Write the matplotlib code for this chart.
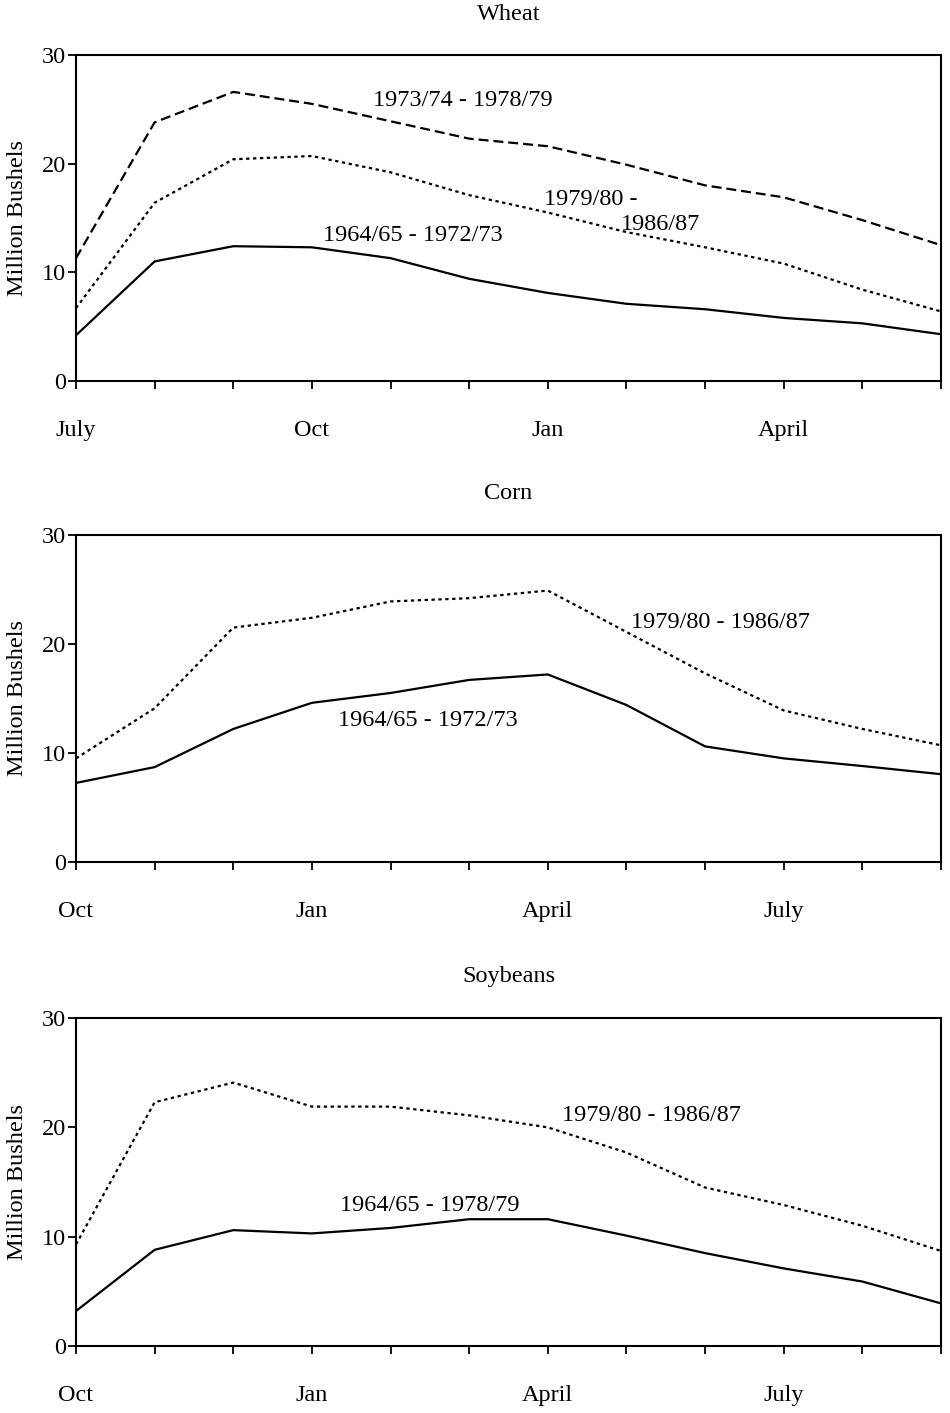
import matplotlib
matplotlib.use("Agg")
import matplotlib.pyplot as plt

plt.rcParams['font.family'] = ['Liberation Serif', 'DejaVu Serif']
plt.rcParams['font.size'] = 17.5

# monthly stocks, million bushels
wheat_months = ['July', '', '', 'Oct', '', '', 'Jan', '', '', 'April', '', '']
wheat_6472 = [4.2, 11.0, 12.4, 12.3, 11.3, 9.4, 8.1, 7.1, 6.6, 5.8, 5.3, 4.3]
wheat_7378 = [11.3, 23.8, 26.6, 25.5, 23.9, 22.3, 21.6, 19.9, 18.0, 16.9, 14.8, 12.5]
wheat_7986 = [6.7, 16.4, 20.4, 20.7, 19.2, 17.1, 15.5, 13.7, 12.3, 10.8, 8.4, 6.4]

corn_months = ['Oct', '', '', 'Jan', '', '', 'April', '', '', 'July', '', '']
corn_6472 = [7.25, 8.7, 12.2, 14.6, 15.5, 16.7, 17.2, 14.4, 10.6, 9.5, 8.8, 8.05]
corn_7986 = [9.5, 14.1, 21.5, 22.4, 23.9, 24.2, 24.9, 21.1, 17.3, 13.9, 12.2, 10.7]

soy_months = ['Oct', '', '', 'Jan', '', '', 'April', '', '', 'July', '', '']
soy_6478 = [3.2, 8.8, 10.6, 10.3, 10.8, 11.6, 11.6, 10.1, 8.5, 7.1, 5.9, 3.9]
soy_7986 = [9.3, 22.3, 24.1, 21.9, 21.9, 21.1, 20.0, 17.7, 14.5, 12.9, 11.0, 8.7]

solid = '-'
dashed = (0, (4.5, 2.2))
dotted = (0, (1.5, 1.6))

fig = plt.figure(figsize=(9.5, 14.13), dpi=100)

def setup(ax, title, months):
    x = range(len(months))
    ax.set_xlim(0, len(months) - 1)
    ax.set_ylim(0, 30)
    ax.set_xticks(list(x))
    ax.set_xticklabels(months)
    ax.set_yticks([0, 10, 20, 30])
    ax.tick_params(axis='x', direction='out', length=6, width=1.3, pad=22)
    ax.tick_params(axis='y', direction='out', length=6, width=1.3, pad=1)
    for s in ax.spines.values():
        s.set_linewidth(1.5)
    ax.text(0.5, 1 + 41 / 327, title, transform=ax.transAxes,
            ha='center', va='center')
    ax.text(-0.068, 0.5, 'Million Bushels', transform=ax.transAxes,
            ha='center', va='center', rotation=90)

lw = 1.6

# Wheat
ax1 = fig.add_axes([0.08, 0.7304, 0.9105, 0.2307])
setup(ax1, 'Wheat', wheat_months)
x = range(len(wheat_months))
ax1.plot(x, wheat_7378, color='black', lw=lw, linestyle=dashed)
ax1.plot(x, wheat_7986, color='black', lw=lw, linestyle=dotted)
ax1.plot(x, wheat_6472, color='black', lw=lw, linestyle=solid)
ax1.text(4.92, 25.85, '1973/74 - 1978/79', ha='center', va='center')
ax1.text(6.54, 16.74, '1979/80 -', ha='center', va='center')
ax1.text(7.44, 14.44, '1986/87', ha='center', va='center')
ax1.text(4.28, 13.34, '1964/65 - 1972/73', ha='center', va='center')

# Corn
ax2 = fig.add_axes([0.08, 0.3900, 0.9105, 0.2314])
setup(ax2, 'Corn', corn_months)
x = range(len(corn_months))
ax2.plot(x, corn_7986, color='black', lw=lw, linestyle=dotted)
ax2.plot(x, corn_6472, color='black', lw=lw, linestyle=solid)
ax2.text(8.2, 22.0, '1979/80 - 1986/87', ha='center', va='center')
ax2.text(4.48, 13.0, '1964/65 - 1972/73', ha='center', va='center')

# Soybeans
ax3 = fig.add_axes([0.08, 0.0474, 0.9105, 0.2321])
setup(ax3, 'Soybeans', soy_months)
x = range(len(soy_months))
ax3.plot(x, soy_7986, color='black', lw=lw, linestyle=dotted)
ax3.plot(x, soy_6478, color='black', lw=lw, linestyle=solid)
ax3.text(7.32, 21.1, '1979/80 - 1986/87', ha='center', va='center')
ax3.text(4.5, 12.9, '1964/65 - 1978/79', ha='center', va='center')

fig.savefig('out.png', dpi=100)
